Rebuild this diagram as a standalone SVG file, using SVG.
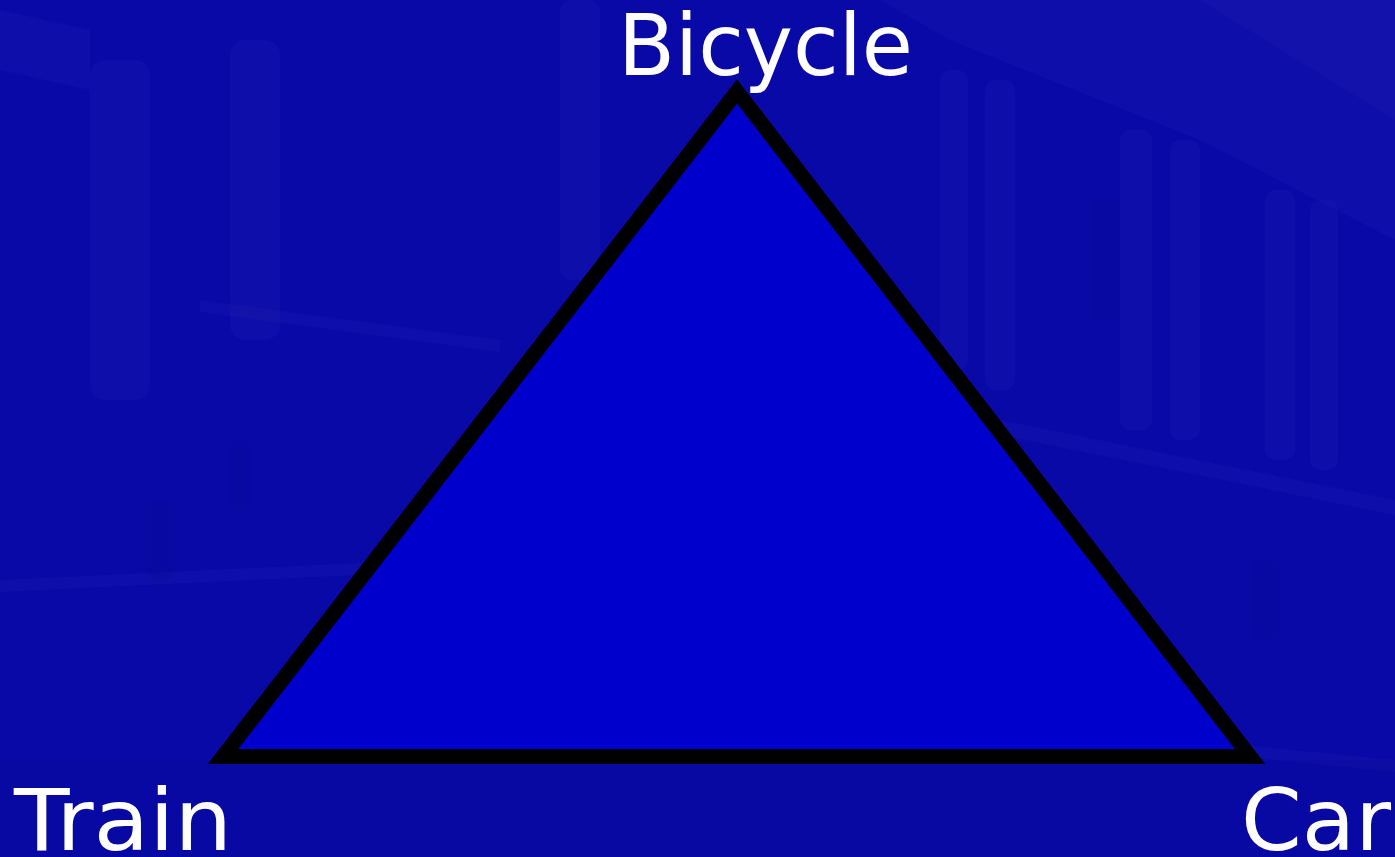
<svg xmlns="http://www.w3.org/2000/svg" width="1395" height="857" viewBox="0 0 1395 857">
  <style>
    .label { font-family: "DejaVu Sans", Verdana, sans-serif; font-size: 85px; fill: #ffffff; }
    .hl { fill: #ffffff; opacity: 0.022; }
    .sh { fill: #000040; opacity: 0.05; }
    .tri { fill: #0000cc; stroke: #000000; stroke-width: 15; stroke-linejoin: miter; stroke-miterlimit: 4; }
  </style>
  <g id="background">
    <rect x="0" y="0" width="1395" height="857" fill="#0909a8"/>
    <polygon class="hl" points="880,0 1395,0 1395,240 1200,140 950,40"/>
    <polygon class="hl" points="1200,0 1395,0 1395,120"/>
    <rect class="hl" x="940" y="70" width="28" height="300" rx="10"/>
    <rect class="hl" x="985" y="80" width="30" height="310" rx="10"/>
    <rect class="hl" x="1120" y="130" width="32" height="300" rx="10"/>
    <rect class="hl" x="1170" y="140" width="30" height="300" rx="10"/>
    <rect class="hl" x="1265" y="190" width="30" height="270" rx="10"/>
    <rect class="hl" x="1310" y="200" width="28" height="270" rx="10"/>
    <rect class="sh" x="1090" y="200" width="30" height="120"/>
    <rect class="sh" x="1250" y="560" width="30" height="80" rx="12"/>
    <polygon class="hl" points="1000,420 1395,500 1395,515 1000,435"/>
    <polygon class="hl" points="990,720 1395,760 1395,772 990,732"/>
    <rect class="hl" x="90" y="60" width="60" height="340" rx="15"/>
    <rect class="hl" x="230" y="40" width="50" height="300" rx="15"/>
    <polygon class="hl" points="200,300 500,340 500,352 200,312"/>
    <polygon class="hl" points="0,580 420,560 420,572 0,592"/>
    <polygon class="hl" points="0,10 90,30 90,90 0,70"/>
    <rect class="hl" x="560" y="0" width="40" height="280" rx="12"/>
    <rect class="sh" x="145" y="500" width="30" height="80" rx="12"/>
    <rect class="sh" x="230" y="440" width="20" height="70" rx="8"/>
    <rect class="sh" x="0" y="760" width="1395" height="97"/>
  </g>
  <g id="triangle">
    <polygon class="tri" points="737,91.5 1250,756.5 223,756.5"/>
  </g>
  <g id="connectors"></g>
  <g id="node-bicycle">
    <text class="label" x="618" y="75" textLength="295" lengthAdjust="spacingAndGlyphs">Bicycle</text>
  </g>
  <g id="node-train">
    <text class="label" x="14" y="850" textLength="218" lengthAdjust="spacingAndGlyphs">Train</text>
  </g>
  <g id="node-car">
    <text class="label" x="1241" y="850" textLength="150" lengthAdjust="spacingAndGlyphs">Car</text>
  </g>
</svg>
